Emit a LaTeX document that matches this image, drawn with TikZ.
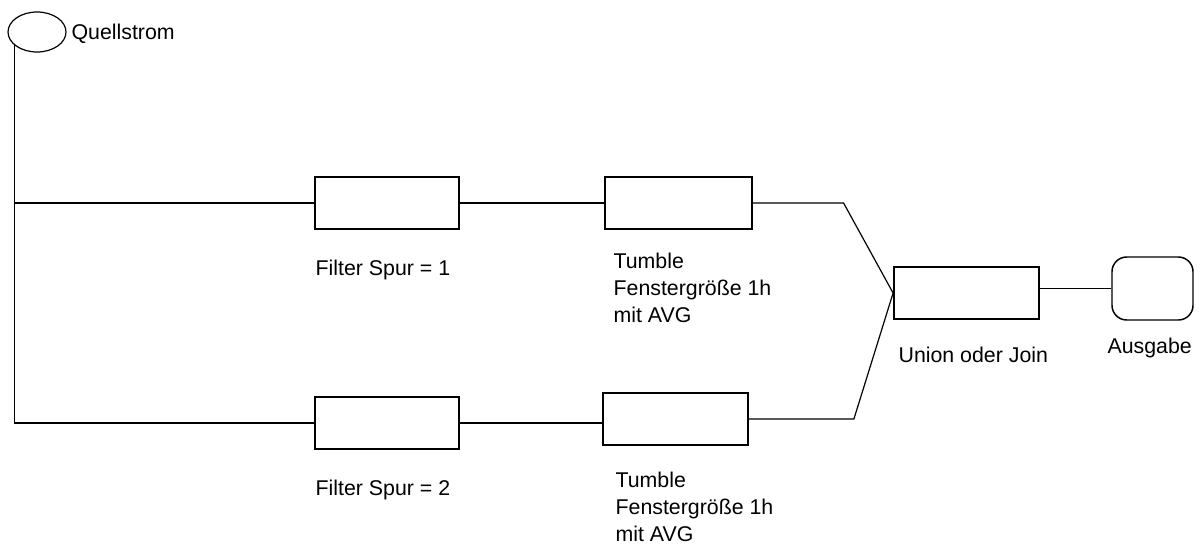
\documentclass[tikz,border=0pt]{standalone}
\usepackage{fontspec}
\setmainfont{Liberation Sans}
\usepackage{tikz}
\usetikzlibrary{shapes.geometric}
\tikzset{every picture/.style={line width=0.9pt}}

\begin{document}
\begin{tikzpicture}[x=0.75pt,y=0.75pt,yscale=-1,xscale=1,
  kasten/.style={draw, line width=1.1pt, minimum width=108pt, minimum height=39pt, inner sep=0pt},
  beschr/.style={anchor=base west, inner sep=0pt, align=left, font=\fontsize{16}{20.6}\selectfont}]
\useasboundingbox (0,0) rectangle (1200,546);

%Shape: Ellipse
\node [draw, ellipse, minimum width=43.5pt, minimum height=30pt, inner sep=0pt] (quelle) at (37,32) {};
%Shape: Rectangle
\node [kasten] (filter1) at (387,203) {};
\node [kasten, minimum width=110pt] (tumble1) at (678.5,203) {};
\node [kasten] (filter2) at (387,423) {};
\node [kasten, minimum width=109pt] (tumble2) at (675.5,419) {};
\node [kasten, minimum width=109pt] (union) at (966.5,293) {};
%Shape: Rounded Rect
\node [draw, line width=1.1pt, rounded corners=11pt, minimum width=60.75pt, minimum height=47.25pt, inner sep=0pt] (ausgabe) at (1152.5,288.5) {};

%Straight Lines
\draw (quelle.210) |- (filter2.west);
\draw (filter1.west) -- (filter1.west -| quelle.210);
\draw (filter1.east) -- (tumble1.west);
\draw (filter2.east) -- (filter2.east -| tumble2.west);
\draw (tumble1.east) -- ++(91,0) -- (union.west);
\draw (tumble2.east) -- ++(105,0) -- (union.west);
\draw (union.east |- ausgabe.west) -- (ausgabe.west);

%Text
\node [beschr] (quelleText) at (71,39) {Quellstrom};
\node [beschr] (filter1Text) at (315,275) {Filter Spur = 1};
\node [beschr, anchor=north west] (tumble1Text) at (613,252) {Tumble\\Fenstergröße 1h\\mit AVG};
\node [beschr] (filter2Text) at (315,495) {Filter Spur = 2};
\node [beschr, anchor=north west] (tumble2Text) at (615,471) {Tumble\\Fenstergröße 1h\\mit AVG};
\node [beschr] (unionText) at (898,362) {Union oder Join};
\node [beschr] (ausgabeText) at (1107,353) {Ausgabe};

\end{tikzpicture}
\end{document}
